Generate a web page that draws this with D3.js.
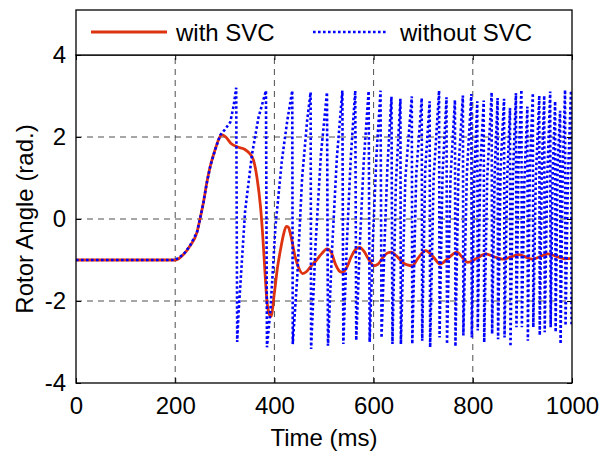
<!DOCTYPE html>
<html>
<head>
<meta charset="utf-8">
<script src="https://cdn.jsdelivr.net/npm/d3@7"></script>
<style>
  body { margin: 0; background: #fff; }
  text { font-family: "Liberation Sans", Arial, sans-serif; fill: #000; }
</style>
</head>
<body>
<svg id="chart" width="600" height="454"></svg>
<script>
// rotor angle (rad.) against time (ms)
const xTicks = [0, 200, 400, 600, 800, 1000];
const yTicks = [-4, -2, 0, 2, 4];
const seriesNames = ["with SVC", "without SVC"];

const withSVC = [
  [0,-1],[200,-1],[217,-0.86],[230,-0.65],[244,-0.32],[250,0],[257,0.41],[264,0.9],[271,1.3],
  [281,1.71],[289,1.98],[294,2.06],[302,2.0],[312,1.85],[325,1.76],[340,1.7],[350,1.6],[358,1.43],
  [365,1.0],[372,0.3],[377,-0.5],[381,-1.3],[385,-2.0],[389,-2.3],[393,-2.38],[400,-1.8],[406,-1.2],
  [412,-0.77],[418,-0.4],[424,-0.18],[428,-0.2],[433,-0.4],[442,-0.93],[450,-1.22],[457,-1.33],
  [465,-1.28],[473,-1.16],[485,-1.0],[495,-0.85],[506,-0.73],[514,-0.8],[523,-1.1],[532,-1.28],
  [538,-1.3],[546,-1.18],[555,-0.92],[564,-0.74],[572,-0.69],[580,-0.78],[590,-0.98],[600,-1.14],
  [609,-1.1],[618,-0.95],[628,-0.83],[636,-0.81],[646,-0.9],[658,-1.05],[668,-1.12],[678,-1.14],
  [690,-0.95],[705,-0.77],[720,-0.92],[734,-1.1],[750,-0.96],[768,-0.81],[780,-0.95],[790,-1.06],
  [808,-0.96],[826,-0.85],[843,-0.92],[860,-0.98],[878,-0.92],[893,-0.87],[907,-0.93],[920,-0.98],
  [935,-0.92],[951,-0.85],[970,-0.92],[985,-0.97],[1000,-0.96]
];

const withoutSVC = [
  [0,-1],[200,-1],[217,-0.86],[230,-0.65],[244,-0.32],[250,0],[257,0.41],[264,0.9],[271,1.3],
  [281,1.71],[291,2.05],[300,2.18],[311,2.36],[318,2.77],[323,3.2],[325,-3.0],
  [328,-2.23],[341,0.2],[355,1.59],[368,2.48],[383,3.13],[385,-3.13],
  [392,-2.23],[402,-0.2],[415,1.42],[426,2.4],[436,3.13],[437,-3.05],
  [446,-1.42],[456,1.02],[466,2.4],[473,3.09],[474,-3.17],
  [483,-0.6],[494,1.6],[506,3.09],[508,-3.09],
  [516,-0.8],[526,1.5],[537,3.13],[539,-3.05],
  [546,-0.6],[554,1.5],[563,3.13],[565,-2.96],
  [572,-0.7],[580,1.4],[590,3.12],[592,-3.0],
  [599,-0.4],[606,1.6],[614,3.13],[616,-2.9],
  [622,-0.6],[628,1.3],[636,2.98],[638,-3.05],
  [645,0.9],[654,2.93],[655,-3.05],[664,1.0],[677,2.99],[678,-3.05],[686,1.1],[697,2.95],
  [698,-2.97],[704,1.2],[713,2.87],[714,-3.13],[721,1.0],[732,3.13],[733,-2.89],[739,1.1],
  [747,2.97],[748,-3.05],[755,1.0],[764,2.9],[765,-3.11],[771,1.2],[780,3.01],[781,-2.84],
  [788,1.1],[797,3.05],[798,-2.89],[803,1.0],[809,2.87],[810,-2.72],[815,1.2],[822,2.89],
  [823,-3.01],[829,1.0],[838,3.09],[839,-2.8],[844,1.1],[850,2.95],[851,-2.93],[856,1.2],
  [863,2.93],[864,-2.89],[869,0.9],[875,2.71],[876,-3.11],[881,1.1],[887,3.07],[888,-2.64],
  [892,1.3],[898,3.15],[899,-2.64],[904,0.9],[910,2.74],[911,-2.97],[915,1.2],[921,3.07],
  [922,-2.64],[927,1.0],[934,3.01],[935,-2.84],[939,1.2],[944,3.01],[945,-2.76],[950,1.0],
  [956,3.11],[957,-2.64],[961,1.1],[966,2.87],[967,-2.76],[971,1.3],[976,2.64],[977,-3.05],
  [981,1.0],[986,3.15],[987,-2.6],[992,1.1],[998,3.13],[999,-2.6]
];

const W = 600, H = 454;
const margin = {top: 55, right: 28, bottom: 71, left: 76};

const svg = d3.select("#chart");

const x = d3.scaleLinear([0, 1000], [margin.left, W - margin.right]);
const y = d3.scaleLinear([-4, 4], [H - margin.bottom, margin.top]);

// dashed grid at inner ticks
const grid = svg.append("g")
  .attr("stroke", "#222")
  .attr("stroke-width", 0.8)
  .attr("stroke-dasharray", "6,5");

grid.selectAll("line.gx")
  .data(xTicks.slice(1, -1))
  .join("line")
  .attr("class", "gx")
  .attr("x1", d => x(d)).attr("x2", d => x(d))
  .attr("y1", y(-4)).attr("y2", y(4));

grid.selectAll("line.gy")
  .data(yTicks.slice(1, -1))
  .join("line")
  .attr("class", "gy")
  .attr("y1", d => y(d)).attr("y2", d => y(d))
  .attr("x1", x(0)).attr("x2", x(1000));

svg.append("clipPath").attr("id", "clip")
  .append("rect")
  .attr("x", x(0)).attr("y", y(4))
  .attr("width", x(1000) - x(0)).attr("height", y(-4) - y(4));

const line = d3.line()
  .x(d => x(d[0]))
  .y(d => y(d[1]));

const plot = svg.append("g").attr("clip-path", "url(#clip)");

plot.append("path")
  .datum(withSVC)
  .attr("fill", "none")
  .attr("stroke", "#dd3311")
  .attr("stroke-width", 2.8)
  .attr("stroke-linejoin", "round")
  .attr("d", line.curve(d3.curveMonotoneX));

plot.append("path")
  .datum(withoutSVC)
  .attr("fill", "none")
  .attr("stroke", "#0000ff")
  .attr("stroke-width", 2.6)
  .attr("stroke-dasharray", "2.6,2.4")
  .attr("d", line.curve(d3.curveLinear));

// axes, ticks pointing inward on all four sides
const fmt = d => String(d);

const axB = svg.append("g")
  .attr("transform", `translate(0,${y(-4)})`)
  .call(d3.axisBottom(x).tickValues(xTicks).tickSize(-5).tickPadding(14).tickFormat(fmt));
const axT = svg.append("g")
  .attr("transform", `translate(0,${y(4)})`)
  .call(d3.axisTop(x).tickValues(xTicks).tickSize(-5).tickFormat(""));
const axL = svg.append("g")
  .attr("transform", `translate(${x(0)},0)`)
  .call(d3.axisLeft(y).tickValues(yTicks).tickSize(-5).tickPadding(10).tickFormat(fmt));
const axR = svg.append("g")
  .attr("transform", `translate(${x(1000)},0)`)
  .call(d3.axisRight(y).tickValues(yTicks).tickSize(-5).tickFormat(""));

[axB, axT, axL, axR].forEach(a => {
  a.select(".domain").remove();
  a.selectAll(".tick line").attr("stroke", "#000").attr("stroke-width", 1);
  a.selectAll("text").style("font-size", "24px");
});

// frame
svg.append("rect")
  .attr("x", x(0)).attr("y", y(4))
  .attr("width", x(1000) - x(0)).attr("height", y(-4) - y(4))
  .attr("fill", "none")
  .attr("stroke", "#000")
  .attr("stroke-width", 1.3);

// legend
const lg = svg.append("g");
lg.append("rect")
  .attr("x", x(0)).attr("y", 10)
  .attr("width", x(1000) - x(0)).attr("height", y(4) - 10)
  .attr("fill", "#fff")
  .attr("stroke", "#000")
  .attr("stroke-width", 1.3);

lg.append("line")
  .attr("x1", 91).attr("x2", 167).attr("y1", 32).attr("y2", 32)
  .attr("stroke", "#dd3311").attr("stroke-width", 2.8);
lg.append("text")
  .attr("x", 176).attr("y", 41)
  .style("font-size", "24px")
  .text(seriesNames[0]);

lg.append("line")
  .attr("x1", 313).attr("x2", 386).attr("y1", 32).attr("y2", 32)
  .attr("stroke", "#0000ff").attr("stroke-width", 2.6)
  .attr("stroke-dasharray", "2.6,2.4");
lg.append("text")
  .attr("x", 400).attr("y", 41)
  .style("font-size", "24px")
  .text(seriesNames[1]);

// axis titles
svg.append("text")
  .attr("x", (x(0) + x(1000)) / 2).attr("y", 446)
  .attr("text-anchor", "middle")
  .style("font-size", "24px")
  .text("Time (ms)");

svg.append("text")
  .attr("transform", `translate(33,${(y(4) + y(-4)) / 2}) rotate(-90)`)
  .attr("text-anchor", "middle")
  .style("font-size", "24px")
  .text("Rotor Angle (rad.)");
</script>
</body>
</html>
